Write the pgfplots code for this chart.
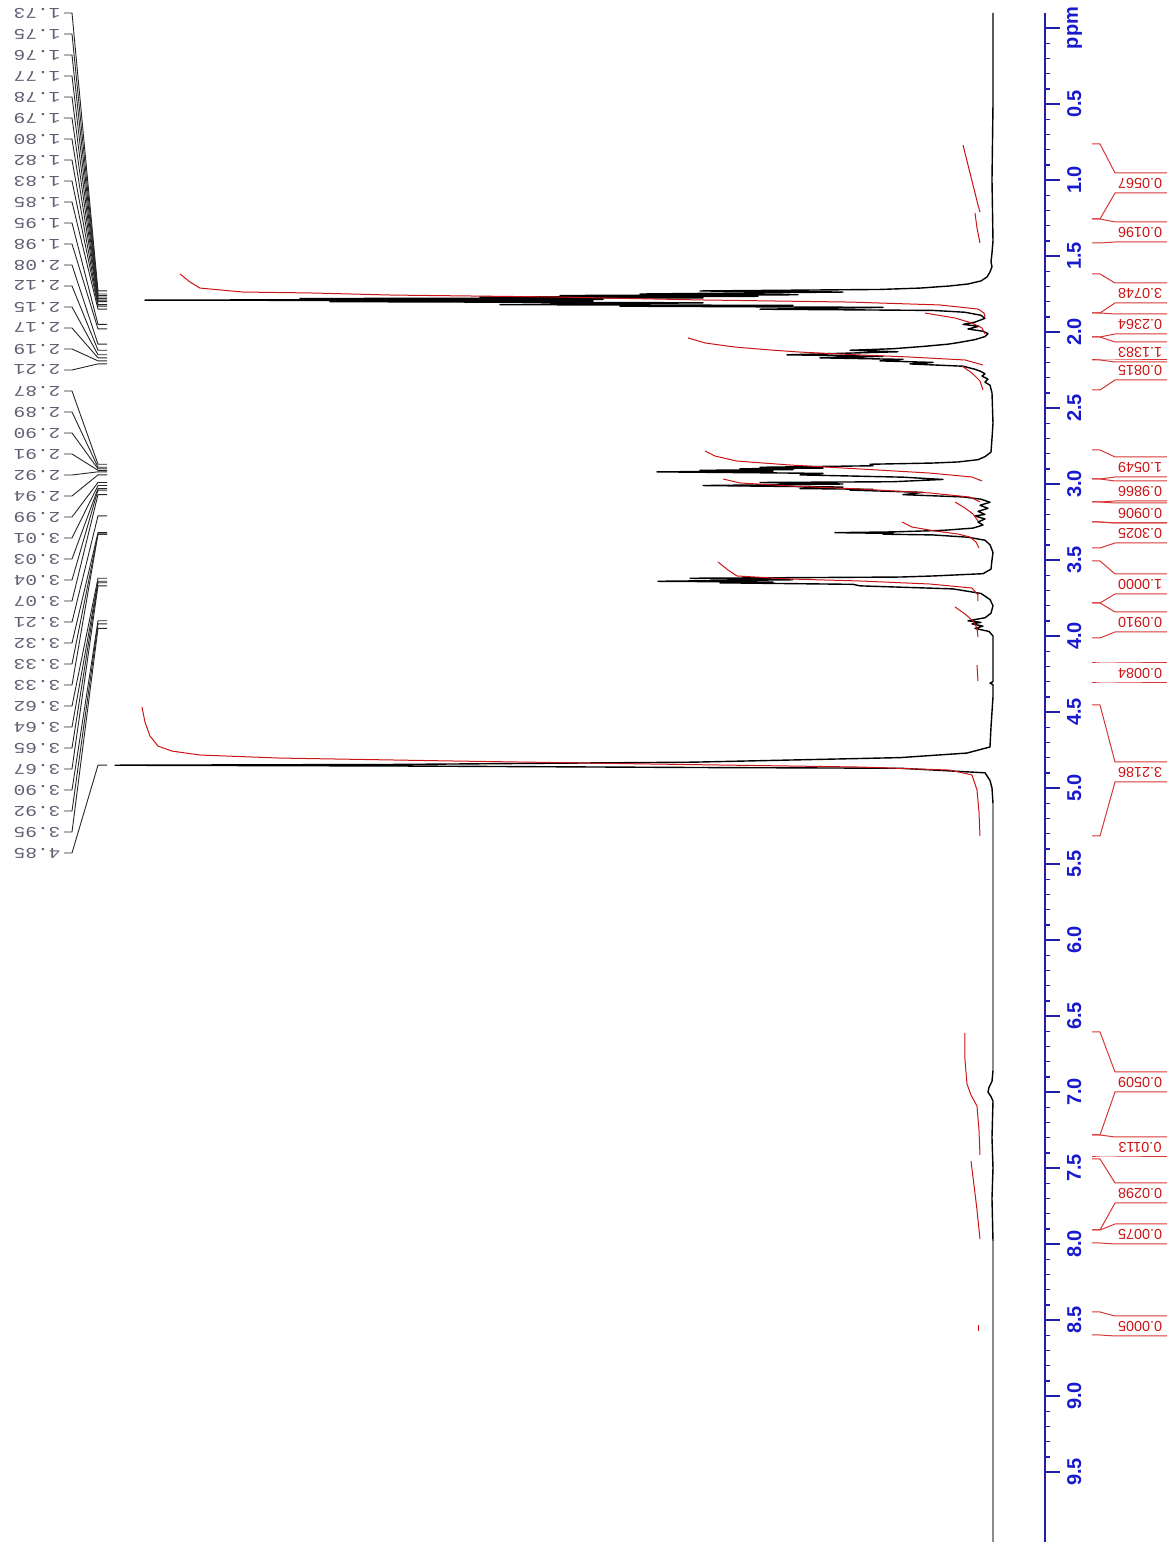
\documentclass[border=0pt]{standalone}
\usepackage{pgfplots}
\pgfplotsset{compat=1.18}
\usepackage{fontspec}
\setmainfont{Liberation Sans}
\newfontfamily\monofont{Liberation Mono}
\definecolor{axisblue}{RGB}{30,30,170}
\definecolor{labblue}{RGB}{25,25,205}
\definecolor{intred}{RGB}{205,20,20}
\definecolor{bracketred}{RGB}{215,55,55}
\definecolor{pklab}{RGB}{95,95,115}
\definecolor{basegrey}{RGB}{140,140,140}
\begin{document}
\begin{tikzpicture}
\useasboundingbox (0,0) rectangle (585pt,771pt);
% ---------------- spectrum (x = intensity, y = ppm) ----------------
\begin{axis}[
  at={(0pt,0pt)}, anchor=south west,
  scale only axis, width=585pt, height=771pt,
  xmin=-177, xmax=993, x dir=reverse,
  ymin=-0.18421, ymax=9.96053, y dir=reverse,
  hide axis, clip=false,
  every axis plot/.append style={mark=none, line join=round},
]
% baseline pieces (grey)
\addplot[basegrey, line width=0.9pt] coordinates {(0,5.10) (0,6.86)};
\addplot[basegrey, line width=0.9pt] coordinates {(0,7.98) (0,9.961)};
% main trace
\addplot[black, line width=0.7pt] coordinates {
(0,-0.099) (0,0.5) (1,1.0) (0,1.40) (1,1.48) (2,1.54) (1,1.57) (3,1.605) (6,1.638)
(12,1.664) (25,1.684) (43,1.697) (73,1.711) (113,1.720) (293,1.730) (150,1.737)
(353,1.750) (195,1.755) (433,1.760) (235,1.765) (513,1.770) (290,1.775) (693,1.780)
(390,1.785) (848,1.790) (400,1.795) (663,1.800) (290,1.808) (493,1.820) (200,1.825)
(373,1.830) (110,1.838) (233,1.850) (60,1.858) (28,1.870) (12,1.890) (8,1.910)
(18,1.935) (30,1.950) (14,1.962) (25,1.980) (10,1.995) (5,2.010) (8,2.030) (18,2.050)
(35,2.070) (45,2.080) (70,2.095) (100,2.110) (143,2.120) (95,2.130) (206,2.150)
(110,2.160) (173,2.170) (90,2.180) (113,2.190) (60,2.200) (83,2.210) (30,2.225)
(18,2.245) (12,2.260) (8,2.275) (11,2.290) (5,2.310) (8,2.330) (3,2.350) (1,2.400)
(0,2.600) (1,2.700) (2,2.790) (8,2.820) (15,2.840) (35,2.855) (60,2.862) (123,2.870)
(120,2.880) (233,2.890) (170,2.895) (253,2.900) (200,2.905) (293,2.910) (220,2.915)
(336,2.920) (170,2.930) (193,2.940) (90,2.955) (50,2.970) (100,2.985) (233,2.990)
(150,3.000) (290,3.010) (150,3.020) (193,3.030) (120,3.035) (143,3.040) (70,3.055)
(90,3.070) (30,3.085) (12,3.100) (3,3.120) (13,3.140) (5,3.160) (15,3.180) (8,3.200)
(18,3.210) (8,3.230) (15,3.250) (10,3.270) (20,3.290) (50,3.305) (100,3.315)
(158,3.320) (100,3.325) (110,3.330) (60,3.335) (25,3.350) (8,3.370) (3,3.400)
(0,3.450) (1,3.500) (2,3.560) (10,3.590) (60,3.605) (93,3.612) (303,3.620) (200,3.630)
(335,3.640) (220,3.645) (273,3.650) (140,3.660) (133,3.670) (40,3.690) (12,3.720)
(3,3.760) (0,3.800) (2,3.850) (8,3.880) (25,3.900) (12,3.910) (21,3.920) (10,3.935)
(18,3.950) (4,3.970) (0,4.000) (0,4.300) (3,4.310) (0,4.320) (0,4.40) (2,4.60)
(3,4.73) (26,4.77) (93,4.80) (300,4.83) (600,4.845) (878,4.850) (600,4.855)
(300,4.865) (93,4.870) (8,4.90) (3,4.95) (1,5.00) (0,5.10)};
\addplot[black, line width=0.7pt] coordinates {
(0,6.86) (1,6.93) (4,6.97) (5,7.00) (2,7.03) (0,7.06) (1,7.30) (0,7.50) (1,7.70) (0,7.98)};
% integral curves
\addplot[intred, line width=0.5pt] coordinates {(30,0.770) (25,0.901) (20,1.033) (15,1.164) (13,1.211)};
\addplot[intred, line width=0.5pt] coordinates {(18,1.217) (16,1.316) (13,1.414)};
\addplot[intred, line width=0.5pt] coordinates {(813,1.618) (803,1.671) (793,1.711) (750,1.737) (683,1.743) (600,1.757) (433,1.770) (293,1.789) (143,1.803) (53,1.822) (15,1.849) (9,1.875) (8,1.901)};
\addplot[intred, line width=0.5pt] coordinates {(68,1.875) (38,1.908) (21,1.941) (11,1.974) (8,2.013)};
\addplot[intred, line width=0.5pt] coordinates {(305,2.039) (288,2.072) (258,2.099) (223,2.118) (193,2.132) (133,2.151) (85,2.164) (28,2.184) (10,2.217)};
\addplot[intred, line width=0.5pt] coordinates {(31,2.224) (21,2.270) (13,2.322) (10,2.382)};
\addplot[intred, line width=0.5pt] coordinates {(288,2.783) (278,2.816) (256,2.849) (203,2.875) (133,2.901) (63,2.928) (21,2.954) (11,2.980)};
\addplot[intred, line width=0.5pt] coordinates {(270,2.967) (253,2.993) (203,3.013) (133,3.033) (63,3.059) (23,3.086) (13,3.118)};
\addplot[intred, line width=0.5pt] coordinates {(38,3.118) (28,3.158) (20,3.197) (15,3.243)};
\addplot[intred, line width=0.5pt] coordinates {(91,3.250) (81,3.283) (58,3.309) (35,3.329) (23,3.349) (17,3.382) (14,3.421)};
\addplot[intred, line width=0.5pt] coordinates {(275,3.513) (265,3.566) (256,3.605) (203,3.625) (133,3.638) (63,3.658) (21,3.684) (15,3.730) (15,3.770)};
\addplot[intred, line width=0.5pt] coordinates {(38,3.809) (28,3.855) (20,3.901) (16,3.947) (15,4.007)};
\addplot[intred, line width=0.5pt] coordinates {(16,4.191) (15,4.296)};
\addplot[intred, line width=0.5pt] coordinates {(851,4.467) (848,4.566) (843,4.658) (835,4.724) (821,4.757) (793,4.783) (713,4.803) (543,4.822) (343,4.842) (133,4.862) (43,4.882) (21,4.914) (16,5.013) (14,5.158) (13,5.316)};
\addplot[intred, line width=0.5pt] coordinates {(28,6.612) (28,6.789) (26,6.947) (22,7.020) (16,7.092) (14,7.250) (13,7.414)};
\addplot[intred, line width=0.5pt] coordinates {(22,7.454) (19,7.612) (16,7.776) (13,7.967)};
\addplot[intred, line width=0.5pt] coordinates {(14,8.533) (14,8.572)};
\end{axis}
% ---------------- ppm scale ----------------
\begin{axis}[
  at={(522.5pt,0pt)}, anchor=south east,
  scale only axis, width=10pt, height=764.5pt,
  xmin=0, xmax=1,
  ymin=-0.0987, ymax=9.96053, y dir=reverse,
  axis x line=none, axis y line*=right,
  y axis line style={axisblue, line width=1pt},
  ytick={0,0.5,...,9.5},
  yticklabels={ppm,0.5,1.0,1.5,2.0,2.5,3.0,3.5,4.0,4.5,5.0,5.5,6.0,6.5,7.0,7.5,8.0,8.5,9.0,9.5},
  minor y tick num=4,
  tick align=outside,
  major tick length=7.5pt, minor tick length=2.5pt,
  tick style={axisblue, line width=0.7pt},
  yticklabel style={rotate=90, anchor=north, text=labblue, font=\bfseries\fontsize{10}{12}\selectfont},
]
\addplot[draw=none] coordinates {(0,0) (1,9)};
\end{axis}
% ---------------- annotations (pixel frame) ----------------
\begin{scope}[shift={(0pt,771pt)}, x=0.5pt, y=-0.5pt]
\foreach \p [count=\i from 0] in {1.73,1.75,1.76,1.77,1.78,1.79,1.80,1.82,1.83,1.85,1.95,1.98,2.08,2.12,2.15,2.17,2.19,2.21,2.87,2.89,2.90,2.91,2.92,2.94,2.99,3.01,3.03,3.04,3.07,3.21,3.32,3.33,3.33,3.62,3.64,3.65,3.67,3.90,3.92,3.95,4.85} {
  \pgfmathsetmacro\yl{13+21*\i}
  \pgfmathsetmacro\yp{28+152*\p}
  \draw[black!85, line width=0.45pt] (64,\yl) -- (72,\yl) -- (98,\yp) -- (107,\yp);
  \node[rotate=180, anchor=west, inner sep=0pt, text=pklab, xscale=1.3,
        font=\monofont\fontsize{7.5}{8}\selectfont] at (61,\yl) {\p};
}
\foreach \v/\a/\b/\t in {0.0567/144/219/173, 0.0196/219/243/222, 3.0748/274/313/283,
  0.2364/313/337/314, 1.1383/337/360/342, 0.0815/360/390/360, 1.0549/450/479/457,
  0.9866/479/502/481, 0.0906/502/522/503, 0.3025/522/548/523, 1.0000/561/603/574,
  0.0910/603/638/612, 0.0084/663/683/663, 3.2186/705/836/762, 0.0509/1032/1135/1072,
  0.0113/1135/1157/1137, 0.0298/1159/1230/1183, 0.0075/1230/1243/1224, 0.0005/1312/1335/1316} {
  \draw[bracketred, line width=0.5pt] (1092,\a) -- (1100,\a) -- (1115,\t) -- (1167,\t);
  \draw[bracketred, line width=0.5pt] (1092,\b) -- (1100,\b) -- (1115,\t+20) -- (1167,\t+20);
  \node[rotate=180, inner sep=0pt, text=intred, font=\fontsize{7.2}{8}\selectfont] at (1140,\t+10) {\v};
}
\end{scope}
\end{tikzpicture}
\end{document}
